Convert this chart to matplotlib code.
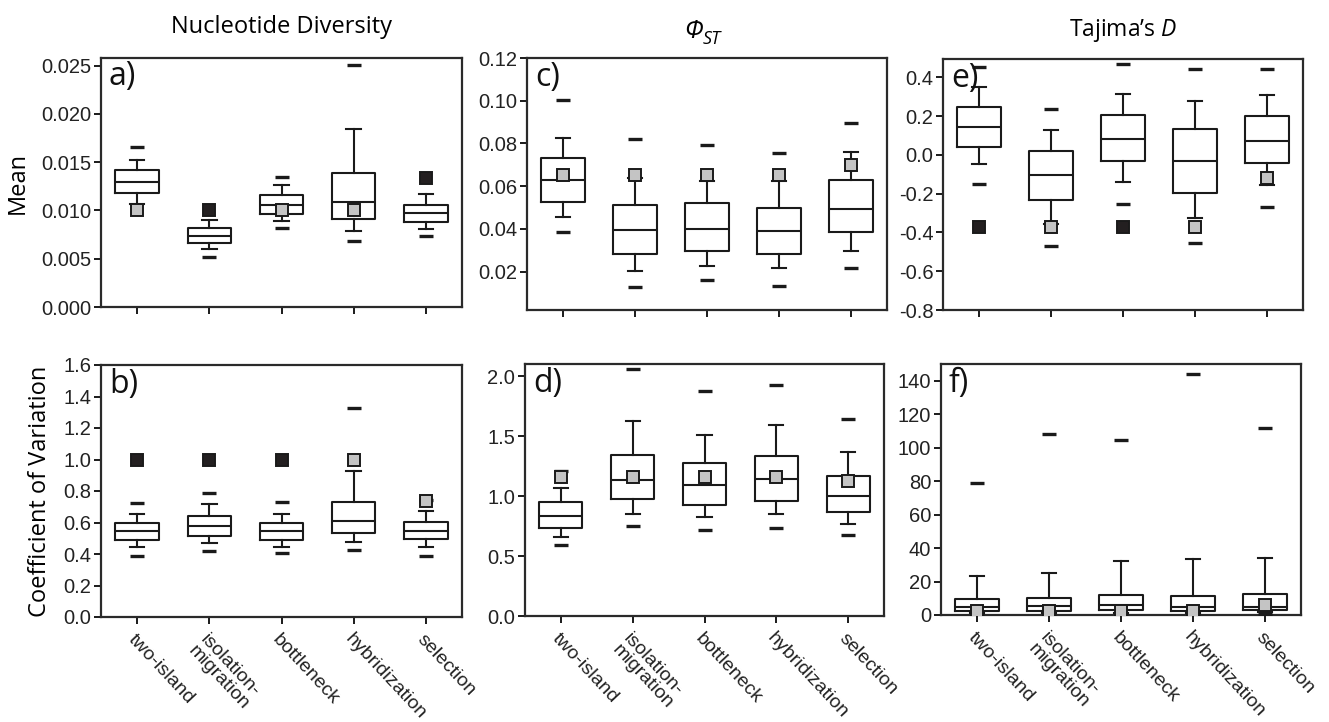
import numpy as np
import matplotlib
matplotlib.use("Agg")
import matplotlib.pyplot as plt

plt.rcParams['mathtext.fontset'] = 'custom'
plt.rcParams['mathtext.it'] = 'Open Sans:italic'
plt.rcParams['mathtext.rm'] = 'Open Sans'
plt.rcParams['mathtext.sf'] = 'Open Sans'

nan = np.nan
categories = ["two-island", "isolation-\nmigration", "bottleneck", "hybridization", "selection"]

# a) Mean nucleotide diversity
a_p95 = [0.0166, nan, 0.0135, 0.0251, nan]
a_whishi = [0.0152, 0.0090, 0.0126, 0.0184, 0.0117]
a_q3 = [0.0142, 0.0082, 0.0116, 0.0139, 0.0106]
a_med = [0.0130, 0.0074, 0.0106, 0.0109, 0.0097]
a_q1 = [0.0118, 0.0066, 0.0096, 0.0091, 0.0088]
a_whislo = [0.0107, 0.0060, 0.0089, 0.0079, 0.0081]
a_p5 = [nan, 0.0052, 0.0082, 0.0068, 0.0074]
a_obs = [0.0100, 0.0100, 0.0100, 0.0100, 0.0134]
a_black = [False, True, False, False, True]

# b) CV nucleotide diversity
b_p95 = [0.721, 0.786, 0.727, 1.327, 0.740]
b_whishi = [0.655, 0.717, 0.655, 0.928, 0.670]
b_q3 = [0.600, 0.640, 0.600, 0.729, 0.605]
b_med = [0.547, 0.579, 0.543, 0.609, 0.547]
b_q1 = [0.486, 0.516, 0.486, 0.535, 0.495]
b_whislo = [0.446, 0.469, 0.444, 0.476, 0.446]
b_p5 = [0.389, 0.416, 0.404, 0.427, 0.389]
b_obs = [1.0, 1.0, 1.0, 1.0, 0.738]
b_black = [True, True, True, False, False]

# c) Mean PhiST
c_p95 = [0.1002, 0.0820, 0.0791, 0.0753, 0.0894]
c_whishi = [0.0827, 0.0637, 0.0625, 0.0625, 0.0758]
c_q3 = [0.0734, 0.0511, 0.0520, 0.0497, 0.0628]
c_med = [0.0628, 0.0394, 0.0398, 0.0392, 0.0494]
c_q1 = [0.0527, 0.0283, 0.0298, 0.0284, 0.0383]
c_whislo = [0.0455, 0.0203, 0.0227, 0.0216, 0.0295]
c_p5 = [0.0383, 0.0130, 0.0159, 0.0134, 0.0217]
c_obs = [0.0653, 0.0650, 0.0653, 0.0653, 0.0698]
c_black = [False, False, False, False, False]

# d) CV PhiST
d_p95 = [1.21, 2.058, 1.875, 1.925, 1.644]
d_whishi = [1.065, 1.624, 1.508, 1.591, 1.363]
d_q3 = [0.951, 1.343, 1.274, 1.332, 1.168]
d_med = [0.834, 1.132, 1.090, 1.140, 1.004]
d_q1 = [0.737, 0.971, 0.929, 0.962, 0.868]
d_whislo = [0.656, 0.854, 0.823, 0.851, 0.768]
d_p5 = [0.592, 0.751, 0.720, 0.737, 0.673]
d_obs = [1.16, 1.16, 1.16, 1.157, 1.124]
d_black = [False, False, False, False, False]

# e) Mean Tajima's D
e_p95 = [0.452, 0.238, 0.466, 0.441, 0.441]
e_whishi = [0.348, 0.128, 0.314, 0.276, 0.310]
e_q3 = [0.248, 0.019, 0.207, 0.134, 0.198]
e_med = [0.141, -0.102, 0.081, -0.031, 0.071]
e_q1 = [0.038, -0.233, -0.033, -0.195, -0.040]
e_whislo = [-0.047, -0.359, -0.140, -0.324, -0.157]
e_p5 = [-0.148, -0.471, -0.253, -0.453, -0.267]
e_obs = [-0.374, -0.374, -0.374, -0.374, -0.117]
e_black = [True, False, True, False, False]

# f) CV Tajima's D
f_p95 = [79.0, 107.9, 104.3, 144.0, 111.9]
f_whishi = [23.1, 25.1, 32.5, 33.7, 34.1]
f_q3 = [9.6, 10.2, 11.8, 11.6, 12.6]
f_med = [4.6, 5.2, 5.8, 4.8, 5.0]
f_q1 = [2.4, 2.6, 2.8, 2.6, 3.0]
f_whislo = [1.0, 1.0, 1.0, 1.0, 1.6]
f_p5 = [0.3, 0.3, 0.3, 0.3, 0.8]
f_obs = [2.4, 2.4, 2.4, 2.4, 5.8]
f_black = [False, False, False, False, False]

a_ticks = [0.000, 0.005, 0.010, 0.015, 0.020, 0.025]
b_ticks = [0.0, 0.2, 0.4, 0.6, 0.8, 1.0, 1.2, 1.4, 1.6]
c_ticks = [0.02, 0.04, 0.06, 0.08, 0.10, 0.12]
d_ticks = [0.0, 0.5, 1.0, 1.5, 2.0]
e_ticks = [-0.8, -0.6, -0.4, -0.2, 0.0, 0.2, 0.4]
f_ticks = [0, 20, 40, 60, 80, 100, 120, 140]

W, H = 1329, 722
fig = plt.figure(figsize=(W / 100, H / 100), dpi=100)

def rect(l, t, r, b):
    return [l / W, 1 - b / H, (r - l) / W, (b - t) / H]

LC = '#1a1a1a'
TICKFONT = ['Liberation Sans', 'DejaVu Sans']
LABFONT = ['Open Sans', 'DejaVu Sans']

panels = [
    ('a)', rect(101, 58, 462, 307), (0.0, 0.0258), a_ticks, '{:.3f}',
     a_p95, a_whishi, a_q3, a_med, a_q1, a_whislo, a_p5, a_obs, a_black, False),
    ('c)', rect(527, 58, 887, 310), (0.002, 0.12), c_ticks, '{:.2f}',
     c_p95, c_whishi, c_q3, c_med, c_q1, c_whislo, c_p5, c_obs, c_black, False),
    ('e)', rect(943, 59, 1303, 310), (-0.8, 0.494), e_ticks, '{:.1f}',
     e_p95, e_whishi, e_q3, e_med, e_q1, e_whislo, e_p5, e_obs, e_black, False),
    ('b)', rect(101, 365, 462, 617), (0.0, 1.6), b_ticks, '{:.1f}',
     b_p95, b_whishi, b_q3, b_med, b_q1, b_whislo, b_p5, b_obs, b_black, True),
    ('d)', rect(525, 364, 884, 616), (0.0, 2.1), d_ticks, '{:.1f}',
     d_p95, d_whishi, d_q3, d_med, d_q1, d_whislo, d_p5, d_obs, d_black, True),
    ('f)', rect(941, 364, 1301, 615), (0.0, 150), f_ticks, '{:.0f}',
     f_p95, f_whishi, f_q3, f_med, f_q1, f_whislo, f_p5, f_obs, f_black, True),
]

axes = {}
pos = np.arange(1, len(categories) + 1)
for (lab, r, ylim, yt, fmt, p95, whi, q3, med, q1, wlo, p5, obs, blk, bottom) in panels:
    ax = fig.add_axes(r)
    axes[lab] = ax
    stats = [dict(med=med[i], q1=q1[i], q3=q3[i], whislo=wlo[i], whishi=whi[i], fliers=[])
             for i in range(len(categories))]
    lp = dict(color=LC, linewidth=1.5)
    ax.bxp(stats, positions=pos, widths=0.6, capwidths=0.2, showfliers=False,
           boxprops=lp, medianprops=lp, whiskerprops=lp, capprops=lp, manage_ticks=False)
    ax.plot(pos, p95, ls='none', marker='_', ms=10, mew=2.4, color=LC, zorder=3)
    ax.plot(pos, p5, ls='none', marker='_', ms=10, mew=2.4, color=LC, zorder=3)
    obs = np.array(obs, float)
    blk = np.array(blk, bool)
    ax.plot(pos[~blk], obs[~blk], ls='none', marker='s', ms=8, mfc='#c4c4c4', mec=LC, mew=1.4, zorder=4)
    ax.plot(pos[blk], obs[blk], ls='none', marker='s', ms=8, mfc='#231f20', mec=LC, mew=1.4, zorder=4)
    ax.set_xlim(0.5, 5.5)
    ax.set_ylim(*ylim)
    ax.set_yticks(yt)
    ax.set_yticklabels([fmt.format(v) for v in yt], family=TICKFONT, fontsize=14.5, color='#222222')
    ax.set_xticks(pos)
    if bottom:
        ax.set_xticklabels(categories, rotation=-47, ha='left', va='top', rotation_mode='anchor',
                           family=TICKFONT, fontsize=14, color='#222222', linespacing=0.95)
    else:
        ax.set_xticklabels([])
    ax.tick_params(direction='out', length=5, width=1.4, color=LC, pad=2)
    ax.tick_params(axis='x', pad=5)
    for s in ax.spines.values():
        s.set_linewidth(1.6)
        s.set_color('#2a2a2a')
    ax.text(0.022, 0.99, lab, transform=ax.transAxes, ha='left', va='top',
            family=LABFONT, fontsize=23, color='#111111')

axes['a)'].set_ylabel('Mean', family=LABFONT, fontsize=17, labelpad=8)
axes['b)'].set_ylabel('Coefficient of Variation', family=LABFONT, fontsize=17, labelpad=8)
fig.align_ylabels([axes['a)'], axes['b)']])

fig.text((101 + 462) / 2 / W, 1 - 33 / H, 'Nucleotide Diversity', ha='center', va='baseline',
         family=LABFONT, fontsize=17)
fig.text(703 / W, 1 - 38 / H, 'Φ', ha='right', va='baseline',
         family=LABFONT, style='italic', fontsize=18)
fig.text(703 / W, 1 - 44 / H, 'ST', ha='left', va='baseline',
         family=LABFONT, style='italic', fontsize=13)
fig.text((943 + 1303) / 2 / W, 1 - 36 / H, r'Tajima’s $\mathit{D}$', ha='center', va='baseline',
         family=LABFONT, fontsize=16.5)

fig.savefig('out.png', dpi=100)
